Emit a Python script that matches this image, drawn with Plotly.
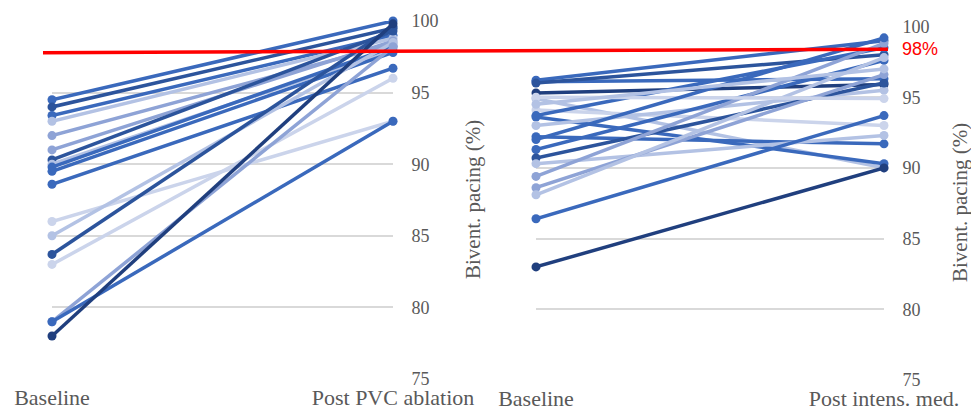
import plotly.graph_objects as go

# ---------------- data ----------------
left_categories = ["Baseline", "Post PVC ablation"]
right_categories = ["Baseline", "Post intens. med."]

left_baseline = [94.5, 94.0, 93.4, 93.0, 92.0, 91.0, 90.3, 90.0, 89.8, 89.5, 88.6,
                 86.0, 85.0, 83.7, 83.0, 79.0, 79.0, 78.0]
left_post = [100.0, 99.5, 99.0, 98.8, 98.4, 98.6, 99.3, 98.0, 98.2, 97.8, 96.7,
             93.0, 98.5, 99.6, 96.0, 98.2, 93.0, 99.8]

right_baseline = [96.2, 96.1, 96.0, 95.3, 94.9, 94.1, 93.7, 93.6, 93.0, 92.2, 91.3,
                  90.7, 90.3, 89.4, 88.6, 88.1, 86.4, 83.0, 95.0, 92.0, 94.5]
right_post = [99.0, 96.3, 98.0, 95.9, 90.0, 93.0, 98.5, 90.3, 95.5, 91.7, 97.6,
              96.0, 92.3, 98.8, 96.6, 97.8, 93.7, 90.0, 94.9, 99.2, 97.0]

threshold = 98
threshold_label = "98%"
y_ticks = [75, 80, 85, 90, 95, 100]
y_title = "Bivent. pacing (%)"

# ---------------- styles ----------------
palette = {
    "navy": "#203F7E",
    "dark": "#2C549C",
    "blue": "#3A69BC",
    "mid": "#8EA3D6",
    "light": "#B3C2E4",
    "vlight": "#CBD4EB",
}
left_shades = ["blue", "dark", "blue", "light", "mid", "mid", "dark", "light", "blue",
               "blue", "blue", "vlight", "light", "dark", "vlight", "mid", "blue", "navy"]
right_shades = ["blue", "blue", "dark", "navy", "light", "vlight", "blue", "blue", "light",
                "blue", "blue", "dark", "light", "mid", "mid", "light", "blue", "navy",
                "vlight", "blue", "light"]

W, H = 971, 416
serif = "Liberation Serif, Times New Roman, serif"
grey = "#595959"

fig = go.Figure()

def add_panel(cats, base, post, shades, xa, ya):
    for b, p, s in zip(base, post, shades):
        c = palette[s]
        fig.add_trace(go.Scatter(
            x=cats, y=[b, p], mode="lines+markers",
            line=dict(color=c, width=3.5),
            marker=dict(color=c, size=9),
            xaxis=xa, yaxis=ya, showlegend=False, cliponaxis=False,
            hoverinfo="skip"))

add_panel(left_categories, left_baseline, left_post, left_shades, "x", "y")
add_panel(right_categories, right_baseline, right_post, right_shades, "x2", "y2")

def px_x(v):
    return v / W

def px_y(v):
    return 1 - v / H

xcommon = dict(type="category", range=[0, 1], showgrid=False, zeroline=False,
               showline=False, ticks="",
               tickfont=dict(family=serif, size=22, color=grey),
               ticklabelstandoff=3, automargin=False, fixedrange=True)
ycommon = dict(range=[75, 100], tickvals=y_ticks, side="right", showgrid=True,
               gridcolor="#D9D9D9", gridwidth=1.5, zeroline=False, showline=False,
               ticks="outside", ticklen=14, tickcolor="rgba(0,0,0,0)",
               tickfont=dict(family=serif, size=18, color=grey),
               ticklabelstandoff=0, automargin=False, fixedrange=True)

fig.update_layout(
    width=W, height=H, autosize=False,
    margin=dict(l=0, r=0, t=0, b=0, autoexpand=False),
    paper_bgcolor="white", plot_bgcolor="white",
    xaxis=dict(domain=[px_x(52), px_x(393)], anchor="y", **xcommon),
    yaxis=dict(domain=[px_y(379), px_y(21)], anchor="x", **ycommon),
    xaxis2=dict(domain=[px_x(536), px_x(884)], anchor="y2", **xcommon),
    yaxis2=dict(domain=[px_y(380), px_y(26.5)], anchor="x2", **ycommon),
)

# threshold line across both panels
fig.add_shape(type="line", xref="paper", yref="paper",
              x0=px_x(43), y0=px_y(52.7), x1=px_x(888), y1=px_y(49.3),
              line=dict(color="#FF0000", width=3.5), layer="above")
fig.add_annotation(xref="paper", yref="paper", x=px_x(900), y=px_y(49),
                   text=threshold_label, showarrow=False, xanchor="left", yanchor="middle",
                   font=dict(family="Liberation Sans, Arial, sans-serif", size=18, color="#FF0000"))

# y-axis titles
fig.add_annotation(xref="paper", yref="paper", x=px_x(473), y=px_y(200),
                   text=y_title, textangle=-90, showarrow=False,
                   xanchor="center", yanchor="middle",
                   font=dict(family=serif, size=21, color=grey))
fig.add_annotation(xref="paper", yref="paper", x=px_x(960), y=px_y(203),
                   text=y_title, textangle=-90, showarrow=False,
                   xanchor="center", yanchor="middle",
                   font=dict(family=serif, size=21, color=grey))

fig.write_html("out.html", config={"displayModeBar": False},
               post_script="document.body.style.margin='0';")
